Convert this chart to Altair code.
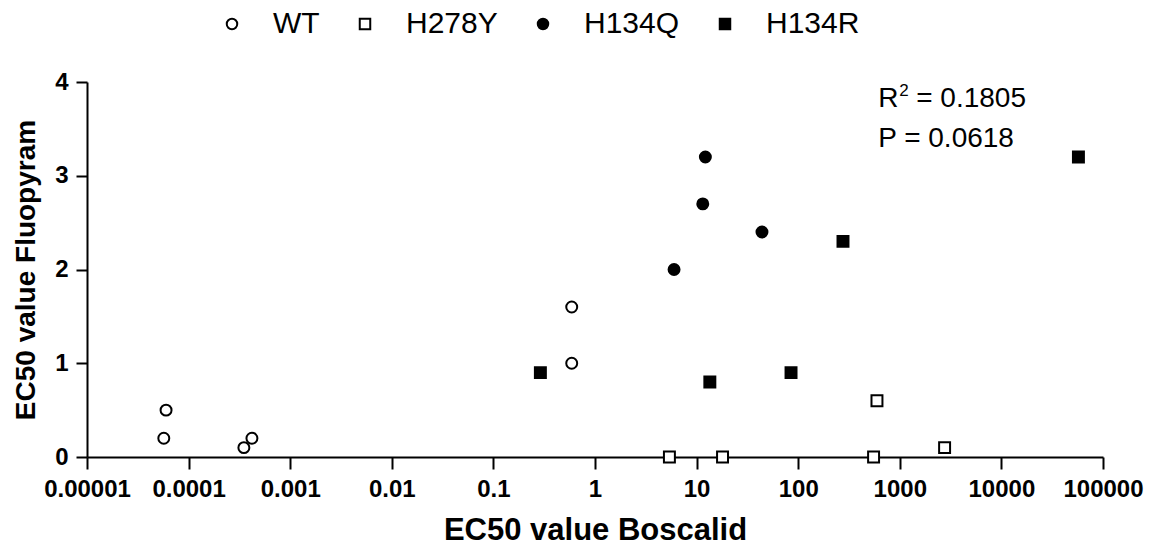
import altair as alt
import pandas as pd

groups = ["WT", "H278Y", "H134Q", "H134R"]

wt_x = [0.00006, 0.000057, 0.00035, 0.00042, 0.59, 0.59]
wt_y = [0.5, 0.2, 0.1, 0.2, 1.6, 1.0]
h278y_x = [5.4, 18, 552, 596, 2760]
h278y_y = [0.0, 0.0, 0.0, 0.6, 0.1]
h134q_x = [6.0, 11.5, 12.2, 44]
h134q_y = [2.0, 2.7, 3.2, 2.4]
h134r_x = [0.29, 13.5, 85, 276, 57300]
h134r_y = [0.9, 0.8, 0.9, 2.3, 3.2]

x_ticks = [0.00001, 0.0001, 0.001, 0.01, 0.1, 1, 10, 100, 1000, 10000, 100000]
y_ticks = [0, 1, 2, 3, 4]

# annotation: "R^2 = 0.1805" and "P = 0.0618"
r_base = "R"
r_sup = "2"
r_rest = "= 0.1805"
p_text = "P = 0.0618"
annot_x = 613
r_y = 3.733
p_y = 3.312

rows = []
for g, xs, ys in zip(groups, [wt_x, h278y_x, h134q_x, h134r_x], [wt_y, h278y_y, h134q_y, h134r_y]):
    for xv, yv in zip(xs, ys):
        rows.append({"strain": g, "boscalid": xv, "fluopyram": yv})
df = pd.DataFrame(rows)

r_df = pd.DataFrame({"bx": [annot_x], "fy": [r_y], "base": [r_base], "sup": [r_sup], "rest": [r_rest]})
p_df = pd.DataFrame({"bx": [annot_x], "fy": [p_y], "label": [p_text]})

FONT = "Liberation Sans"

xscale = alt.Scale(type="log", domain=[1e-5, 1e5], nice=False)
yscale = alt.Scale(domain=[0, 4], nice=False)

legend = alt.Legend(
    title=None, orient="none", direction="horizontal",
    legendX=130, legendY=-73, padding=0,
    labelFont=FONT, labelFontSize=30, labelColor="black",
    symbolSize=110, symbolStrokeWidth=2, symbolStrokeColor="black",
    labelOffset=26, columnPadding=30,
)

points = alt.Chart(df).mark_point(
    filled=True, size=120, strokeWidth=2, opacity=1
).encode(
    x=alt.X("boscalid:Q", scale=xscale, axis=alt.Axis(
        values=x_ticks, format=".5~f", title="EC50 value Boscalid",
        labelPadding=8, titlePadding=14, tickSize=12, titleFontSize=31,
        labelOverlap=False, labelFlush=False, labelBound=False)),
    y=alt.Y("fluopyram:Q", scale=yscale, axis=alt.Axis(
        values=y_ticks, format="d", title="EC50 value Fluopyram",
        labelPadding=8, titlePadding=14, tickSize=11,
        labelOverlap=False, labelFlush=False, labelBound=False)),
    shape=alt.Shape("strain:N", scale=alt.Scale(domain=groups, range=["circle", "square", "circle", "square"]), legend=legend),
    fill=alt.Fill("strain:N", scale=alt.Scale(domain=groups, range=["white", "white", "black", "black"]), legend=legend),
    stroke=alt.Stroke("strain:N", scale=alt.Scale(domain=groups, range=["black", "black", "black", "black"]), legend=legend),
)

enc = dict(x=alt.X("bx:Q", scale=xscale), y=alt.Y("fy:Q", scale=yscale))
tstyle = dict(align="left", baseline="alphabetic", font=FONT, color="black")

r_base_t = alt.Chart(r_df).mark_text(fontSize=28, **tstyle).encode(text="base:N", **enc)
r_sup_t = alt.Chart(r_df).mark_text(fontSize=17, dx=21, dy=-11, **tstyle).encode(text="sup:N", **enc)
r_rest_t = alt.Chart(r_df).mark_text(fontSize=28, dx=38, **tstyle).encode(text="rest:N", **enc)
p_t = alt.Chart(p_df).mark_text(fontSize=28, **tstyle).encode(text="label:N", **enc)

chart = alt.layer(points, r_base_t, r_sup_t, r_rest_t, p_t).properties(
    width=1016, height=375,
    autosize=alt.AutoSizeParams(type="none"),
    padding={"left": 87, "top": 82, "right": 49, "bottom": 89},
).configure(font=FONT).configure_view(stroke=None).configure_axis(
    grid=False, domainColor="black", domainWidth=2, tickColor="black", tickWidth=2,
    labelFont=FONT, labelFontSize=24, labelFontWeight="bold", labelColor="black",
    titleFont=FONT, titleFontSize=28, titleFontWeight="bold", titleColor="black",
)

chart.save("out.html", embed_options={"renderer": "svg", "actions": False})
